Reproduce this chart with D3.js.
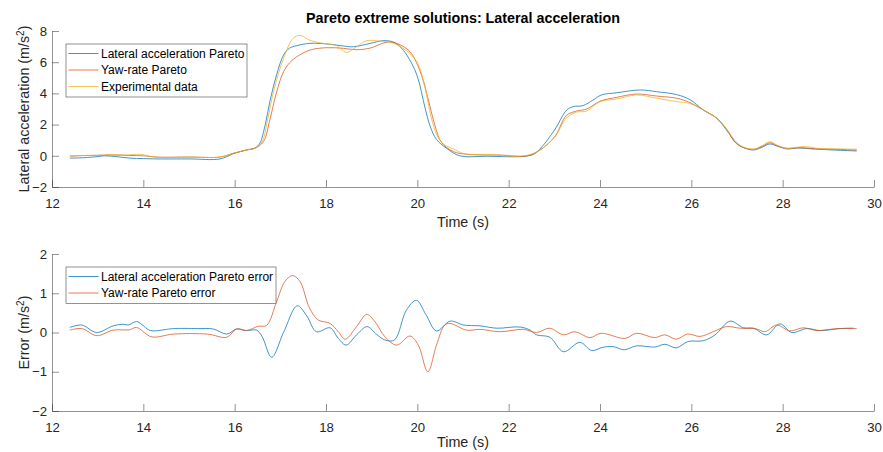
<!DOCTYPE html>
<html>
<head>
<meta charset="utf-8">
<script src="https://cdn.jsdelivr.net/npm/d3@7/dist/d3.min.js"></script>
<style>
  html, body { margin: 0; padding: 0; background: #fff; }
  svg { display: block; font-family: "Liberation Sans", Arial, Helvetica, sans-serif; }
</style>
</head>
<body>
<svg id="chart" width="883" height="452"></svg>
<script>
// ---- Top panel: lateral acceleration (m/s^2) ----
const timeLatPareto = [12.39, 12.7, 13.0, 13.15, 13.4, 13.7, 14.0, 14.3, 15.0, 15.68, 15.96, 16.12, 16.27, 16.44, 16.55, 16.67, 16.77, 16.92, 17.07, 17.2, 17.36, 17.65, 18.09, 18.35, 18.6, 18.96, 19.25, 19.47, 19.62, 19.77, 19.99, 20.17, 20.28, 20.42, 20.64, 20.93, 21.51, 22.39, 22.58, 22.98, 23.27, 23.41, 23.63, 23.85, 24.03, 24.37, 24.87, 25.24, 25.68, 25.97, 26.26, 26.56, 26.77, 26.99, 27.15, 27.36, 27.55, 27.72, 27.9, 28.09, 28.33, 28.6, 29.11, 29.62];
const latPareto = [-0.15, -0.12, -0.05, 0.0, -0.05, -0.15, -0.18, -0.2, -0.2, -0.2, 0.12, 0.27, 0.38, 0.5, 0.8, 2.0, 3.47, 5.2, 6.46, 6.9, 7.06, 7.21, 7.15, 7.05, 6.99, 7.2, 7.38, 7.3, 7.0, 6.46, 5.18, 3.06, 1.9, 1.05, 0.48, 0.0, -0.03, -0.02, 0.16, 1.54, 2.93, 3.15, 3.22, 3.58, 3.9, 4.04, 4.22, 4.11, 3.92, 3.6, 2.94, 2.4, 1.65, 0.8, 0.52, 0.37, 0.55, 0.76, 0.6, 0.44, 0.5, 0.45, 0.37, 0.31];

const timeYawPareto = [12.39, 12.7, 13.0, 13.3, 13.7, 14.0, 14.3, 15.0, 15.68, 15.96, 16.12, 16.27, 16.44, 16.63, 16.77, 16.92, 17.07, 17.2, 17.36, 17.65, 18.02, 18.38, 18.67, 18.96, 19.33, 19.55, 19.84, 20.09, 20.24, 20.39, 20.53, 20.79, 21.08, 21.8, 22.47, 22.98, 23.27, 23.49, 23.71, 24.0, 24.37, 24.8, 25.24, 25.68, 25.97, 26.26, 26.56, 26.8, 26.92, 27.06, 27.36, 27.55, 27.72, 27.9, 28.09, 28.4, 28.7, 29.11, 29.62];
const yawPareto = [-0.03, 0.02, 0.03, 0.05, 0.02, 0.0, -0.08, -0.08, -0.08, 0.15, 0.27, 0.38, 0.48, 0.9, 2.3, 4.1, 5.39, 5.95, 6.35, 6.78, 6.93, 6.89, 6.8, 6.9, 7.28, 7.2, 6.67, 5.18, 3.6, 1.9, 0.85, 0.27, 0.1, 0.05, 0.05, 1.12, 2.6, 2.87, 3.0, 3.5, 3.75, 3.96, 3.83, 3.69, 3.41, 2.94, 2.4, 1.6, 1.0, 0.63, 0.42, 0.6, 0.84, 0.62, 0.48, 0.52, 0.46, 0.42, 0.37];

const timeExperimental = [12.39, 12.7, 13.0, 13.3, 13.6, 13.93, 14.1, 14.3, 15.0, 15.68, 15.96, 16.12, 16.27, 16.44, 16.6, 16.72, 16.85, 17.07, 17.28, 17.43, 17.65, 17.95, 18.23, 18.45, 18.67, 18.89, 19.18, 19.4, 19.69, 19.99, 20.17, 20.3, 20.45, 20.6, 20.79, 21.0, 21.5, 22.47, 22.98, 23.27, 23.49, 23.71, 24.0, 24.37, 24.8, 25.24, 25.68, 25.97, 26.26, 26.56, 26.8, 26.95, 27.1, 27.36, 27.55, 27.72, 27.9, 28.09, 28.33, 28.5, 28.8, 29.11, 29.62];
const experimental = [0.0, 0.02, 0.03, 0.08, 0.05, 0.1, 0.0, -0.1, -0.08, -0.08, 0.15, 0.27, 0.38, 0.48, 0.9, 2.3, 4.1, 6.25, 7.53, 7.72, 7.4, 7.2, 7.06, 6.63, 6.99, 7.38, 7.35, 7.28, 6.89, 6.03, 4.33, 2.5, 1.2, 0.7, 0.44, 0.15, 0.08, 0.08, 1.1, 2.45, 2.8, 2.87, 3.47, 3.64, 3.9, 3.69, 3.47, 3.35, 2.94, 2.4, 1.6, 1.0, 0.62, 0.42, 0.65, 0.9, 0.65, 0.48, 0.56, 0.6, 0.46, 0.45, 0.42];

// ---- Bottom panel: error (m/s^2) ----
const timeLatError = [12.39, 12.65, 12.98, 13.34, 13.56, 13.67, 13.85, 13.96, 14.15, 14.51, 14.66, 15.19, 15.53, 15.83, 16.04, 16.26, 16.48, 16.6, 16.81, 17.07, 17.37, 17.58, 17.79, 18.09, 18.27, 18.44, 18.67, 18.9, 19.11, 19.29, 19.5, 19.76, 19.98, 20.19, 20.42, 20.72, 21.01, 21.37, 21.74, 22.25, 22.47, 22.61, 22.9, 23.2, 23.56, 23.82, 24.05, 24.29, 24.53, 24.8, 25.2, 25.42, 25.67, 25.93, 26.26, 26.52, 26.85, 27.14, 27.36, 27.65, 27.94, 28.2, 28.53, 28.82, 29.26, 29.55];
const latError = [0.13, 0.19, 0.0, 0.17, 0.21, 0.19, 0.28, 0.21, 0.05, 0.08, 0.1, 0.1, 0.09, -0.04, 0.09, 0.05, 0.06, -0.1, -0.63, 0.0, 0.68, 0.42, 0.02, 0.12, -0.15, -0.32, -0.06, 0.15, -0.05, -0.19, -0.19, 0.57, 0.82, 0.45, 0.04, 0.29, 0.19, 0.17, 0.11, 0.14, 0.06, -0.06, -0.12, -0.49, -0.25, -0.46, -0.38, -0.36, -0.44, -0.34, -0.37, -0.3, -0.39, -0.23, -0.21, -0.06, 0.29, 0.12, 0.11, -0.06, 0.22, 0.0, 0.1, 0.05, 0.1, 0.11];

const timeYawError = [12.39, 12.65, 12.98, 13.34, 13.7, 13.85, 14.18, 14.66, 15.4, 15.83, 16.04, 16.26, 16.52, 16.7, 16.92, 17.1, 17.27, 17.43, 17.64, 17.83, 18.09, 18.27, 18.42, 18.67, 18.89, 19.07, 19.29, 19.55, 19.84, 20.02, 20.23, 20.42, 20.6, 20.72, 21.08, 21.37, 21.81, 22.32, 22.61, 22.9, 23.2, 23.45, 23.78, 24.02, 24.55, 24.8, 25.2, 25.42, 25.67, 25.92, 26.19, 26.48, 26.77, 27.06, 27.43, 27.61, 27.87, 28.16, 28.45, 28.75, 29.2, 29.62];
const yawError = [0.06, 0.1, -0.08, 0.06, 0.07, 0.13, -0.11, -0.04, -0.04, -0.12, 0.09, 0.05, 0.16, 0.18, 0.79, 1.3, 1.45, 1.3, 0.62, 0.32, 0.23, 0.02, -0.17, 0.15, 0.46, 0.28, -0.11, -0.32, -0.09, -0.32, -1.0, -0.32, 0.19, 0.23, 0.06, 0.08, 0.02, 0.08, 0.0, 0.11, -0.06, 0.02, -0.13, -0.02, -0.15, -0.02, -0.13, -0.06, -0.17, -0.04, -0.1, 0.02, 0.15, 0.11, 0.09, 0.02, 0.19, 0.04, 0.12, 0.05, 0.1, 0.1];

// ---- Axis ticks ----
const timeTicks = [12, 14, 16, 18, 20, 22, 24, 26, 28, 30];
const accelTicks = [-2, 0, 2, 4, 6, 8];
const errorTicks = [-2, -1, 0, 1, 2];

const colors = { blue: "#0072BD", orange: "#D95319", yellow: "#EDB120" };
const axisColor = "#262626";
const FONT = "'Liberation Sans', Arial, Helvetica, sans-serif";

const svg = d3.select("#chart");

const x = d3.scaleLinear().domain([12, 30]).range([52, 874]);
const yTop = d3.scaleLinear().domain([-2, 8]).range([187, 31]);
const yBot = d3.scaleLinear().domain([-2, 2]).range([411, 254]);

function drawAxes(yScale, yTicks, ylabelMain, xlabelY) {
  const g = svg.append("g");
  const [y0, y1] = yScale.range();
  // x axis, ticks pointing into the plot area
  const xa = g.append("g").attr("transform", `translate(0,${y0})`)
    .call(d3.axisBottom(x).tickValues(timeTicks).tickSizeInner(-7).tickSizeOuter(0).tickPadding(12).tickFormat(d3.format("d")));
  // y axis
  const ya = g.append("g").attr("transform", `translate(${x.range()[0]},0)`)
    .call(d3.axisLeft(yScale).tickValues(yTicks).tickSizeInner(-7).tickSizeOuter(0).tickPadding(5).tickFormat(d3.format("d")));
  [xa, ya].forEach(a => {
    a.select(".domain").attr("stroke", axisColor).attr("stroke-width", 0.5);
    a.selectAll(".tick line").attr("stroke", axisColor).attr("stroke-width", 0.5);
    a.selectAll(".tick text").attr("fill", axisColor)
      .style("font-size", "13.2px").style("font-family", FONT);
  });
  xa.selectAll(".tick text").attr("dy", "0.71em");
  // x label
  g.append("text").attr("x", (x.range()[0] + x.range()[1]) / 2).attr("y", xlabelY)
    .attr("text-anchor", "middle").attr("fill", axisColor).style("font-size", "14.3px")
    .text("Time (s)");
  // y label with superscript exponent
  const cy = (y0 + y1) / 2;
  const t = g.append("text").attr("transform", `translate(29,${cy}) rotate(-90)`)
    .attr("text-anchor", "middle").attr("fill", axisColor).style("font-size", "14.3px");
  t.append("tspan").text(ylabelMain + " (m/s");
  t.append("tspan").attr("baseline-shift", "super").style("font-size", "10px").text("2");
  t.append("tspan").text(")");
}

drawAxes(yTop, accelTicks, "Lateral acceleration", 227);
drawAxes(yBot, errorTicks, "Error", 447);

function drawLine(ts, vs, yScale, color) {
  const pts = ts.map((t, i) => [t, vs[i]]);
  const line = d3.line().x(d => x(d[0])).y(d => yScale(d[1])).curve(d3.curveCatmullRom.alpha(0.5));
  svg.append("path").datum(pts).attr("d", line)
    .attr("fill", "none").attr("stroke", color).attr("stroke-width", 1)
    .attr("stroke-opacity", 0.75).attr("stroke-linejoin", "round");
}

drawLine(timeLatPareto, latPareto, yTop, colors.blue);
drawLine(timeYawPareto, yawPareto, yTop, colors.orange);
drawLine(timeExperimental, experimental, yTop, colors.yellow);

drawLine(timeLatError, latError, yBot, colors.blue);
drawLine(timeYawError, yawError, yBot, colors.orange);

// Title
svg.append("text").attr("x", 463).attr("y", 23).attr("text-anchor", "middle")
  .attr("fill", "#000").style("font-size", "14.3px").style("font-weight", "bold")
  .text("Pareto extreme solutions: Lateral acceleration");

function drawLegend(x0, y0, w, entries) {
  const rowH = 16.5;
  const h = entries.length * rowH + 3.5;
  const g = svg.append("g");
  g.append("rect").attr("x", x0 + 0.5).attr("y", y0 + 0.5).attr("width", w).attr("height", h)
    .attr("fill", "#fff").attr("stroke", axisColor).attr("stroke-width", 0.5);
  entries.forEach((e, i) => {
    const cy = y0 + 10 + i * rowH;
    g.append("line").attr("x1", x0 + 3).attr("x2", x0 + 33).attr("y1", cy).attr("y2", cy)
      .attr("stroke", e.color).attr("stroke-width", 1).attr("stroke-opacity", 0.75);
    g.append("text").attr("x", x0 + 35.5).attr("y", cy).attr("dy", "0.35em")
      .attr("fill", "#000").style("font-size", "12px").text(e.label);
  });
}

drawLegend(65.5, 43.5, 181, [
  { label: "Lateral acceleration Pareto", color: colors.blue },
  { label: "Yaw-rate Pareto", color: colors.orange },
  { label: "Experimental data", color: colors.yellow }
]);
drawLegend(65.5, 266.5, 210, [
  { label: "Lateral acceleration Pareto error", color: colors.blue },
  { label: "Yaw-rate Pareto error", color: colors.orange }
]);
</script>
</body>
</html>
